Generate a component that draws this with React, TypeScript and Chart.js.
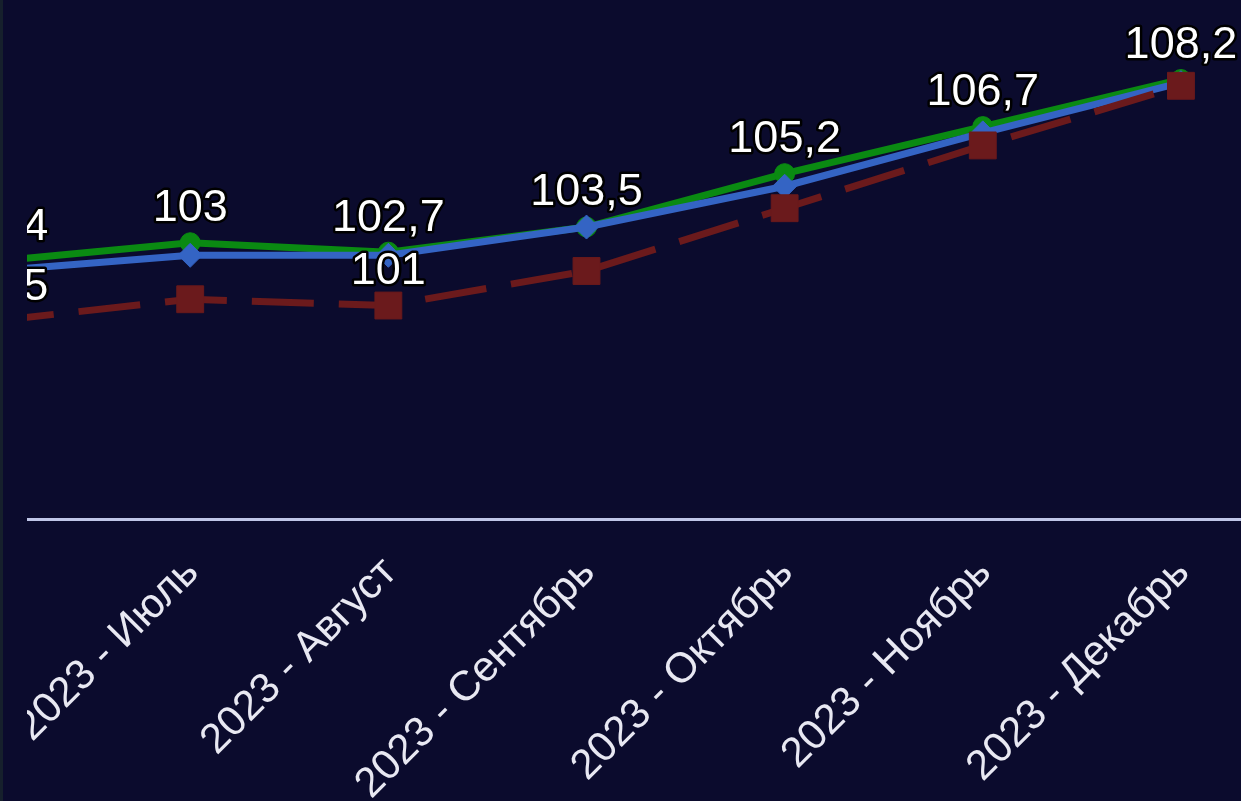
import React, { useEffect, useRef } from 'react';
import { Chart, registerables } from 'chart.js';

Chart.register(...registerables);

const categories = [
  '2023 - Июнь',
  '2023 - Июль',
  '2023 - Август',
  '2023 - Сентябрь',
  '2023 - Октябрь',
  '2023 - Ноябрь',
  '2023 - Декабрь',
];
const greenValues = [102.4, 103, 102.7, 103.5, 105.2, 106.7, 108.2];
const blueValues = [102.1, 102.6, 102.6, 103.5, 104.8, 106.5, 108.1];
const redValues = [100.5, 101.2, 101, 102.1, 104.1, 106.1, 108.0];
const greenLabelShown = [true, true, true, true, true, true, true];
const blueLabelShown = [false, false, false, false, false, false, false];
const redLabelShown = [true, false, true, false, false, false, false];
const yMin = 94.2;
const yMax = 110;

const FONT = '"Liberation Sans", Arial, Helvetica, sans-serif';
const BG = '#0b0b2d';
const GREEN = '#0a8a12';
const BLUE = '#3464c4';
const RED = '#6b1a1c';
const AXIS = '#c0c6e8';

const fmt = (v: number) =>
  Number.isInteger(v) ? String(v) : v.toFixed(1).replace('.', ',');

const masks: Record<string, boolean[]> = {
  green: greenLabelShown,
  blue: blueLabelShown,
  red: redLabelShown,
};

const labelPlugin = {
  id: 'pointValueLabels',
  afterDatasetsDraw(chart: any) {
    const ctx = chart.ctx as CanvasRenderingContext2D;
    ctx.save();
    ctx.font = `45px ${FONT}`;
    ctx.textAlign = 'center';
    ctx.textBaseline = 'middle';
    ctx.lineJoin = 'round';
    chart.data.datasets.forEach((ds: any, di: number) => {
      const mask = masks[ds.label];
      if (!mask) return;
      const meta = chart.getDatasetMeta(di);
      meta.data.forEach((pt: any, i: number) => {
        if (!mask[i]) return;
        const text = fmt(ds.data[i]);
        const x = pt.x;
        const y = pt.y - 34;
        ctx.lineWidth = 5;
        ctx.strokeStyle = '#000';
        ctx.strokeText(text, x, y);
        ctx.fillStyle = '#ffffff';
        ctx.fillText(text, x, y);
      });
    });
    ctx.restore();
  },
};

export default function App() {
  const canvasRef = useRef<HTMLCanvasElement | null>(null);

  useEffect(() => {
    document.body.style.margin = '0';
    const canvas = canvasRef.current;
    if (!canvas) return;
    const chart = new Chart(canvas, {
      type: 'line',
      data: {
        labels: categories,
        datasets: [
          {
            label: 'green',
            data: greenValues,
            borderColor: GREEN,
            backgroundColor: GREEN,
            borderWidth: 7,
            pointStyle: 'circle',
            pointRadius: 10,
            pointBackgroundColor: GREEN,
            pointBorderColor: GREEN,
            pointBorderWidth: 1,
            tension: 0,
            order: 3,
          },
          {
            label: 'blue',
            data: blueValues,
            borderColor: BLUE,
            backgroundColor: BLUE,
            borderWidth: 7,
            pointStyle: 'rectRot',
            pointRadius: 12,
            pointBackgroundColor: BLUE,
            pointBorderColor: BLUE,
            pointBorderWidth: 1,
            tension: 0,
            order: 2,
          },
          {
            label: 'red',
            data: redValues,
            borderColor: RED,
            backgroundColor: RED,
            borderWidth: 7,
            borderDash: [62, 25],
            pointStyle: 'rect',
            pointRadius: 19,
            pointBackgroundColor: RED,
            pointBorderColor: RED,
            pointBorderWidth: 1,
            tension: 0,
            order: 1,
          },
        ],
      },
      options: {
        responsive: false,
        maintainAspectRatio: false,
        animation: false,
        layout: { padding: { top: 23, left: 0, right: 0, bottom: 0 } },
        plugins: {
          legend: { display: false },
          tooltip: { enabled: false },
        },
        scales: {
          x: {
            offset: true,
            grid: { display: false, drawTicks: false },
            border: { display: true, color: AXIS, width: 3 },
            ticks: {
              color: '#e8e8f2',
              font: { size: 42, family: FONT },
              minRotation: 45,
              maxRotation: 45,
              autoSkip: false,
              padding: 29,
              labelOffset: 2,
            },
            afterFit: (s: any) => {
              s.height = 282;
              s.paddingLeft = 0;
              s.paddingRight = 0;
            },
          },
          y: {
            display: false,
            min: yMin,
            max: yMax,
          },
        },
      },
      plugins: [labelPlugin],
    } as any);
    return () => chart.destroy();
  }, []);

  return (
    <div
      style={{
        position: 'fixed',
        left: 0,
        top: 0,
        width: 1241,
        height: 801,
        background: BG,
        overflow: 'hidden',
      }}
    >
      <div
        style={{
          position: 'absolute',
          left: 0,
          top: 0,
          width: 3,
          height: 801,
          background: '#16202c',
        }}
      />
      <div
        style={{
          position: 'absolute',
          left: 27,
          top: 0,
          width: 1214,
          height: 801,
          overflow: 'hidden',
        }}
      >
        <canvas
          ref={canvasRef}
          width={1427}
          height={801}
          style={{
            position: 'absolute',
            left: -154,
            top: 0,
            width: 1427,
            height: 801,
          }}
        />
      </div>
    </div>
  );
}
